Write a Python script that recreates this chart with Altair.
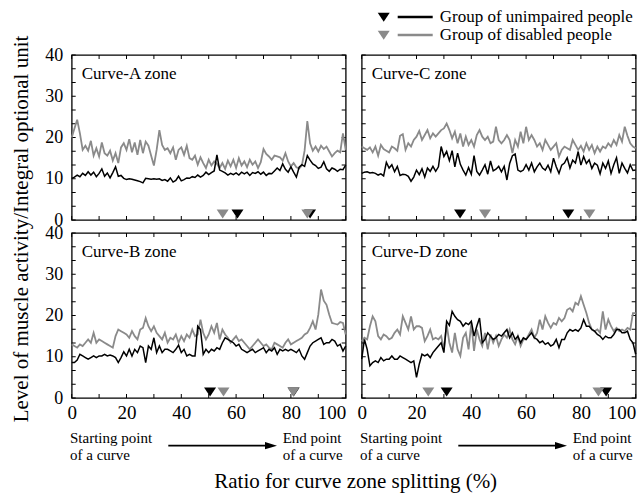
import altair as alt
import pandas as pd

FONT = "Liberation Serif"
BLACK = "#000000"
GRAY = "#8a8a8a"
W, H = 274, 165

x_pct = list(range(101))

A_black = [10.1, 10.4, 10.9, 10.5, 11.3, 10.8, 11.7, 10.9, 11.6, 10.5,
           11.3, 12.4, 10.6, 11.4, 10.2, 11.5, 12.9, 10.6, 10.8, 10.1,
           9.8, 10.0, 9.9, 9.7, 9.5, 9.3, 9.0, 10.1, 10.0, 9.9,
           10.0, 9.9, 10.0, 9.6, 9.8, 9.4, 10.2, 9.2, 9.6, 10.6,
           9.5, 9.8, 10.2, 10.1, 10.5, 10.3, 10.9, 10.4, 10.8, 11.6,
           11.0, 11.5, 11.9, 15.8, 12.1, 11.8, 11.4, 10.9, 11.3, 11.0,
           11.4, 10.9, 11.6, 11.2, 11.6, 10.8, 11.5, 11.3, 11.7, 11.1,
           11.6, 10.8, 11.3, 11.2, 11.9, 12.6, 12.0, 13.6, 12.3, 11.6,
           12.9, 11.6, 10.4, 12.8, 13.4, 13.0, 15.6, 14.5, 13.6, 13.2,
           12.5, 12.8, 14.1, 12.4, 11.8, 12.6, 12.3, 11.8, 12.3, 12.2,
           13.3]
A_gray = [20.0, 22.2, 24.3, 21.0, 17.0, 18.0, 16.8, 19.2, 15.6, 17.4,
          15.4, 18.8, 16.2, 15.6, 16.8, 14.4, 16.2, 13.8, 17.6, 18.6,
          17.0, 19.6, 16.4, 18.8, 15.8, 19.4, 16.2, 19.0, 18.0, 15.6,
          13.2, 17.0, 21.8, 18.2, 17.0, 17.4, 16.2, 17.6, 14.6, 17.0,
          17.6, 15.8, 18.0, 15.0, 14.6, 15.6, 13.4, 15.2, 13.8, 12.6,
          14.6, 13.2, 14.2, 13.6, 12.6, 13.8, 12.4, 14.4, 13.0, 14.6,
          12.6, 15.0, 13.2, 14.2, 12.8, 14.6, 13.4, 14.2, 12.6, 14.0,
          17.2, 16.0, 15.4, 14.6, 15.6, 15.4, 15.2, 14.4, 16.2, 14.2,
          13.0, 13.8, 12.8, 12.5, 13.2, 16.8, 24.0, 18.6, 16.8, 17.8,
          16.6, 18.0, 17.2, 17.8, 16.6, 15.4, 16.2, 16.8, 16.4, 21.0,
          17.0]

C_black = [11.3, 11.6, 11.7, 11.4, 11.5, 11.3, 10.9, 11.2, 10.7, 14.0,
           12.6, 13.4, 11.7, 13.0, 10.8, 11.1, 11.0, 10.6, 9.4, 10.4,
           12.1, 11.0, 12.4, 10.4, 12.6, 11.8, 13.0, 11.8, 12.9, 17.8,
           15.4, 16.6, 14.4, 16.8, 12.9, 16.2, 13.5, 12.1, 10.9, 12.7,
           11.1, 15.6, 11.8, 10.9, 12.1, 13.4, 11.1, 14.3, 11.9, 12.3,
           13.0, 11.7, 13.0, 9.7, 13.7, 15.6, 16.0, 12.1, 11.7, 12.1,
           13.4, 12.1, 13.8, 11.7, 12.9, 13.8, 12.6, 12.1, 13.3, 11.7,
           15.0, 12.9, 11.3, 13.3, 13.8, 15.1, 12.6, 14.5, 13.8, 16.6,
           13.3, 15.4, 13.7, 14.6, 12.5, 13.8, 13.3, 11.2, 13.8, 12.5,
           14.3, 11.3, 13.4, 15.1, 11.3, 13.8, 12.5, 11.4, 13.4, 12.0,
           12.1]
C_gray = [17.8, 17.4, 17.0, 17.6, 16.4, 17.8, 15.6, 18.2, 17.2, 16.8,
          16.4, 17.8, 17.4, 16.8, 20.4, 20.8, 17.0, 18.6, 17.8, 19.4,
          20.2, 21.6, 19.4, 20.6, 21.8, 19.8, 21.0, 20.2, 21.0, 21.8,
          22.2, 23.4, 21.8, 19.8, 21.4, 18.6, 21.0, 17.8, 20.2, 18.2,
          19.4, 17.8, 20.6, 21.8, 20.2, 19.4, 20.2, 18.6, 19.0, 22.6,
          19.4, 18.6, 19.4, 20.6, 19.4, 16.2, 19.4, 17.8, 21.4, 18.6,
          22.6, 19.4, 20.6, 19.4, 17.8, 18.6, 17.0, 19.4, 18.2, 17.0,
          17.8, 18.6, 15.4, 17.0, 17.8, 17.4, 17.0, 19.4, 18.2, 17.0,
          18.0, 16.6, 18.6, 17.0, 18.2, 16.2, 17.8, 16.6, 17.8, 17.4,
          18.6, 17.8, 19.4, 18.2, 20.6, 19.0, 22.6, 20.4, 18.6, 17.8,
          17.4]

B_black = [8.6, 8.6, 9.2, 10.6, 10.2, 9.8, 9.4, 9.8, 10.2, 9.8,
           10.2, 10.2, 10.6, 10.2, 10.4, 10.2, 9.8, 8.6, 9.8, 11.2,
           10.2, 11.8, 10.2, 11.8, 11.0, 12.6, 12.2, 8.6, 12.6, 11.8,
           14.6, 11.0, 12.6, 11.0, 11.8, 11.8, 11.4, 11.0, 11.8, 12.8,
           11.0, 11.8, 10.2, 10.6, 10.2, 10.2, 17.4, 16.6, 10.6, 11.8,
           11.0, 11.8, 11.4, 12.2, 11.8, 13.4, 14.6, 14.2, 13.8, 13.4,
           12.6, 13.0, 11.8, 11.4, 11.0, 11.4, 11.8, 11.0, 11.4, 11.8,
           12.2, 11.0, 11.8, 11.4, 12.2, 10.6, 11.8, 11.4, 11.8, 11.4,
           11.8, 11.4, 11.0, 11.8, 10.2, 9.4, 11.0, 12.6, 13.4, 13.8,
           14.2, 14.6, 13.0, 13.4, 13.4, 14.2, 13.8, 12.6, 13.0, 11.4,
           12.6]
B_gray = [13.0, 12.6, 12.2, 13.0, 12.6, 13.4, 14.2, 13.4, 15.8, 13.4,
          14.2, 13.8, 13.4, 13.0, 12.6, 12.2, 15.0, 16.6, 16.2, 15.8,
          15.4, 14.6, 16.2, 15.0, 14.2, 16.6, 17.0, 19.4, 17.4, 16.2,
          17.4, 15.8, 15.0, 14.2, 15.8, 13.4, 14.6, 14.2, 15.4, 13.4,
          15.0, 13.8, 15.4, 14.6, 16.6, 15.0, 15.4, 19.0, 15.8, 14.2,
          15.4, 17.4, 15.8, 18.2, 14.2, 16.6, 15.4, 14.6, 13.4, 14.2,
          15.0, 13.8, 14.2, 13.4, 12.6, 11.8, 12.6, 13.4, 14.2, 13.4,
          12.6, 13.0, 12.2, 11.8, 13.4, 13.0, 12.6, 12.2, 13.4, 14.2,
          13.0, 13.4, 13.8, 14.2, 14.6, 15.4, 15.8, 17.0, 18.6, 16.6,
          20.2, 26.3, 23.6, 22.6, 20.2, 18.2, 18.0, 17.8, 18.4, 18.2,
          15.4]

D_black = [9.4, 14.2, 11.8, 7.8, 8.6, 9.0, 8.6, 9.8, 9.0, 9.4,
           9.4, 10.2, 9.4, 9.4, 10.2, 9.8, 9.4, 9.0, 8.6, 9.0,
           5.0, 8.2, 10.6, 10.2, 10.6, 9.8, 11.0, 11.8, 12.6, 13.4,
           11.0, 18.6, 17.6, 21.0, 19.8, 19.0, 18.6, 17.4, 18.2, 17.8,
           18.6, 15.0, 17.4, 19.4, 13.4, 14.2, 15.8, 15.0, 14.2, 14.6,
           15.4, 15.0, 15.8, 16.6, 14.6, 15.8, 14.2, 15.0, 13.4, 14.6,
           14.2, 15.0, 15.8, 14.6, 14.2, 13.4, 13.8, 13.0, 13.4, 12.6,
           13.0, 14.2, 12.2, 14.2, 14.2, 15.8, 16.6, 16.2, 16.6, 16.2,
           17.0, 19.0, 17.4, 17.4, 16.6, 16.2, 15.4, 15.0, 14.2, 15.0,
           14.6, 14.6, 15.4, 16.6, 16.6, 15.8, 15.8, 16.2, 14.2, 13.4,
           10.6]
D_gray = [13.8, 14.6, 14.2, 17.4, 19.8, 18.6, 15.0, 14.2, 15.4, 15.0,
          14.2, 14.6, 15.8, 16.6, 15.4, 19.8, 18.2, 16.6, 19.8, 16.6,
          17.4, 17.4, 17.0, 13.8, 15.0, 16.6, 14.2, 14.6, 14.2, 15.0,
          11.8, 17.8, 13.4, 11.0, 15.8, 11.8, 10.2, 14.6, 15.8, 11.8,
          18.2, 11.4, 16.6, 14.2, 12.6, 15.8, 11.8, 15.4, 13.4, 15.0,
          12.6, 14.2, 15.4, 14.6, 16.6, 14.2, 13.0, 15.0, 12.6, 14.2,
          14.2, 15.4, 16.6, 14.6, 15.8, 19.0, 16.6, 19.8, 18.2, 17.0,
          18.2, 17.8, 19.4, 18.6, 19.4, 21.4, 21.8, 21.0, 23.1, 22.6,
          24.7, 22.6, 20.6, 18.2, 16.6, 16.2, 16.6, 15.8, 21.0, 16.6,
          19.0, 17.4, 16.2, 17.0, 16.2, 16.6, 16.2, 17.0, 16.6, 20.6,
          20.6]

# marker positions (% of curve) where the triangles sit
A_mk_black, A_mk_gray = [60.5, 87.0], [55.1, 86.0]
B_mk_black, B_mk_gray = [50.5, 81.0], [55.4, 80.9]
C_mk_black, C_mk_gray = [35.9, 75.4], [45.0, 83.1]
D_mk_black, D_mk_gray = [31.0, 89.2], [24.3, 86.4]
MK_LEVEL = 1.5

panel_names = ["Curve-A zone", "Curve-B zone", "Curve-C zone", "Curve-D zone"]
legend_labels = ["Group of unimpaired people", "Group of disabled people"]
start_lines = ["Starting point", "of a curve"]
end_lines = ["End point", "of a curve"]
x_title = "Ratio for curve zone splitting (%)"
y_title = "Level of muscle activity/Integral optional unit"

x_label_vals = [0, 20, 40, 60, 80, 100]
y_label_vals = [0, 10, 20, 30, 40]
x_tick_vals = list(range(0, 101, 10))
y_tick_vals = [i * 40 / 12 for i in range(13)]

TRI_DOWN = "M-1,-0.7L1,-0.7L0,0.8Z"
TRI_RIGHT = "M-1,-0.6L1,0L-1,0.6Z"

xs = alt.Scale(domain=[0, 100], nice=False, zero=False)
ys = alt.Scale(domain=[0, 40], nice=False, zero=True)


def text_layer(s, x, y, size, align="left", baseline="alphabetic", angle=0):
    kw = dict(align=align, baseline=baseline, font=FONT, fontSize=size, color=BLACK)
    if angle:
        kw["angle"] = angle
    return alt.Chart(pd.DataFrame({"s": [s]})).mark_text(**kw).encode(
        x=alt.value(x), y=alt.value(y), text="s:N")


def panel(label, black, gray, mk_black, mk_gray, show_x, show_y, extras):
    xaxis = alt.Axis(values=x_label_vals, ticks=False, domain=False, grid=False,
                     labelFont=FONT, labelFontSize=19, labelPadding=5, labelColor=BLACK,
                     labelAlign={"condition": {"test": "datum.value == 100", "value": "right"},
                                 "value": "center"},
                     title=None, labelFlush=False) if show_x else None
    yaxis = alt.Axis(values=y_label_vals, ticks=False, domain=False, grid=False,
                     labelFont=FONT, labelFontSize=18, labelPadding=9, labelColor=BLACK,
                     title=None, labelFlush=False) if show_y else None

    def X(f):
        return alt.X(f, type="quantitative", scale=xs, axis=xaxis)

    def Y(f):
        return alt.Y(f, type="quantitative", scale=ys, axis=yaxis)

    gray_line = alt.Chart(pd.DataFrame({"x": x_pct, "v": gray})).mark_line(
        color=GRAY, strokeWidth=1.8).encode(x=X("x"), y=Y("v"))
    black_line = alt.Chart(pd.DataFrame({"x": x_pct, "v": black})).mark_line(
        color=BLACK, strokeWidth=1.5).encode(x=X("x"), y=Y("v"))
    mkb = alt.Chart(pd.DataFrame({"x": mk_black, "v": [MK_LEVEL] * len(mk_black)})).mark_point(
        shape=TRI_DOWN, filled=True, size=144, color=BLACK, opacity=1).encode(x=X("x"), y=Y("v"))
    mkg = alt.Chart(pd.DataFrame({"x": mk_gray, "v": [MK_LEVEL] * len(mk_gray)})).mark_point(
        shape=TRI_DOWN, filled=True, size=144, color=GRAY, opacity=1).encode(x=X("x"), y=Y("v"))
    xt = pd.DataFrame({"t": x_tick_vals})
    yt = pd.DataFrame({"t": y_tick_vals})
    tb = alt.Chart(xt).mark_rule(color=BLACK, strokeWidth=1).encode(
        x=X("t"), y=alt.value(H), y2=alt.value(H - 4))
    tt = alt.Chart(xt).mark_rule(color=BLACK, strokeWidth=1).encode(
        x=X("t"), y=alt.value(0), y2=alt.value(4))
    tl = alt.Chart(yt).mark_rule(color=BLACK, strokeWidth=1).encode(
        y=Y("t"), x=alt.value(0), x2=alt.value(4))
    tr = alt.Chart(yt).mark_rule(color=BLACK, strokeWidth=1).encode(
        y=Y("t"), x=alt.value(W), x2=alt.value(W - 4))
    lab = text_layer(label, 10, 24, 17)
    layers = [tb, tt, tl, tr, gray_line, black_line, mkb, mkg, lab] + extras
    return alt.layer(*layers).properties(width=W, height=H)


def start_end():
    out = [
        text_layer(start_lines[0], -1.7, 210, 15),
        text_layer(start_lines[1], -1.7, 227, 15),
        text_layer(end_lines[0], 211, 210, 15),
        text_layer(end_lines[1], 211, 227, 15),
        alt.Chart(pd.DataFrame({"a": [0]})).mark_rule(color=BLACK, strokeWidth=1.8).encode(
            x=alt.value(96.6), x2=alt.value(196), y=alt.value(212.7)),
        alt.Chart(pd.DataFrame({"a": [0]})).mark_point(
            shape=TRI_RIGHT, filled=True, size=144, color=BLACK, opacity=1).encode(
            x=alt.value(199.3), y=alt.value(212.7)),
    ]
    return out


legend = []
for i, (lbl, col) in enumerate(zip(legend_labels, [BLACK, GRAY])):
    yy = -38 + i * 18
    legend += [
        alt.Chart(pd.DataFrame({"a": [0]})).mark_point(
            shape=TRI_DOWN, filled=True, size=144, color=col, opacity=1).encode(
            x=alt.value(22), y=alt.value(yy)),
        alt.Chart(pd.DataFrame({"a": [0]})).mark_rule(color=col, strokeWidth=2.5).encode(
            x=alt.value(36), x2=alt.value(71), y=alt.value(yy)),
        text_layer(lbl, 78, yy, 17, baseline="middle"),
    ]

pA = panel(panel_names[0], A_black, A_gray, A_mk_black, A_mk_gray, False, True,
           [text_layer(y_title, -50, 174, 21, align="center", baseline="middle", angle=270)])
pC = panel(panel_names[2], C_black, C_gray, C_mk_black, C_mk_gray, False, False, legend)
pB = panel(panel_names[1], B_black, B_gray, B_mk_black, B_mk_gray, True, True,
           start_end() + [text_layer(x_title, 284, 255, 21, align="center")])
pD = panel(panel_names[3], D_black, D_gray, D_mk_black, D_mk_gray, True, False, start_end())

chart = alt.concat(pA, pC, pB, pD, columns=2, spacing={"row": 13, "column": 16},
                   bounds="flush").properties(
    autosize=alt.AutoSizeParams(type="none"),
    padding={"left": 71.7, "top": 55, "right": 569.3, "bottom": 439},
    background="white",
).configure_view(stroke=BLACK, strokeWidth=1.3, fill="transparent")

chart.save("out.html", embed_options={"renderer": "svg", "actions": False})
